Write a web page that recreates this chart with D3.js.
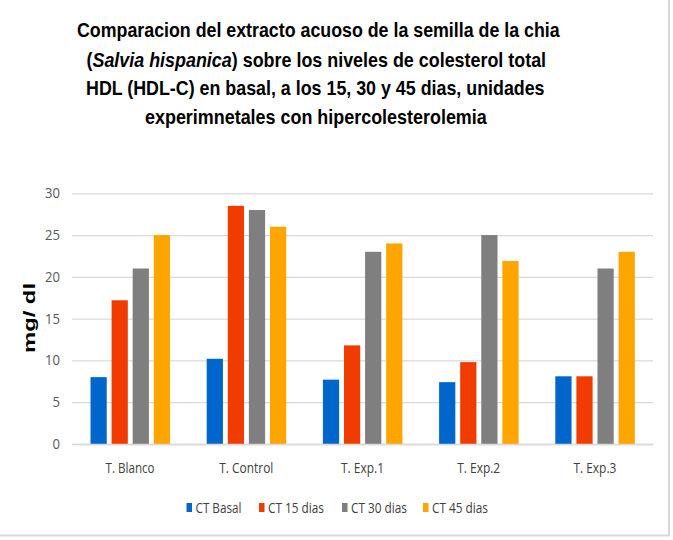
<!DOCTYPE html>
<html><head><meta charset="utf-8">
<script src="https://cdn.jsdelivr.net/npm/d3@7"></script>
<style>
html,body{margin:0;padding:0;background:#fff;}
svg{display:block;}
</style></head>
<body>
<svg id="chart" width="673" height="540"></svg>
<script>
const categories = ["T. Blanco", "T. Control", "T. Exp.1", "T. Exp.2", "T. Exp.3"];
const seriesNames = ["CT Basal", "CT 15 dias", "CT 30 dias", "CT 45 dias"];
const ctBasal = [8.0, 10.2, 7.7, 7.4, 8.1];
const ct15 = [17.2, 28.5, 11.8, 9.8, 8.1];
const ct30 = [21.0, 28.0, 23.0, 25.0, 21.0];
const ct45 = [25.0, 26.0, 24.0, 21.9, 23.0];
const yTicks = [0, 5, 10, 15, 20, 25, 30];
const colors = ["#0066CC", "#F03C00", "#7F7F7F", "#FFA500"];

const seriesValues = [ctBasal, ct15, ct30, ct45];
const table = categories.map((c, i) => ({cat: c, vals: seriesNames.map((s, j) => ({s, v: seriesValues[j][i], j}))}));

const svg = d3.select("#chart");
const m = {left: 72, right: 20};
const W = 673;
const x0 = d3.scaleBand().domain(categories).range([m.left, W - m.right]).paddingInner(0).paddingOuter(0);
const x1 = d3.scaleBand().domain(seriesNames).range([18.5, 98]).paddingInner(0.23).paddingOuter(0);
const y = d3.scaleLinear().domain([0, 30]).range([444, 193.3]);

const labelFont = "'Open Sans', sans-serif";

// border
svg.append("line").attr("x1", 669).attr("x2", 669).attr("y1", 0).attr("y2", 536).attr("stroke", "#d9d9d9").attr("stroke-width", 2);
svg.append("line").attr("x1", 0).attr("x2", 670).attr("y1", 535.5).attr("y2", 535.5).attr("stroke", "#d9d9d9").attr("stroke-width", 2);

// grid + y ticks
const yAxis = d3.axisLeft(y).tickValues(yTicks).tickSize(-(W - m.right - m.left)).tickPadding(12);
const gy = svg.append("g").attr("transform", `translate(${m.left},0)`).call(yAxis);
gy.select(".domain").remove();
gy.selectAll(".tick line").attr("stroke", "#d9d9d9").attr("stroke-width", 1.3);
gy.selectAll(".tick text").attr("fill", "#595959").attr("font-family", labelFont).attr("font-size", 14)
  .attr("textLength", d => d >= 10 ? 15 : 7.5).attr("lengthAdjust", "spacingAndGlyphs");

// bars
const groups = svg.append("g").selectAll("g").data(table).join("g")
  .attr("transform", d => `translate(${x0(d.cat)},0)`);
groups.selectAll("rect").data(d => d.vals).join("rect")
  .attr("x", d => x1(d.s)).attr("width", x1.bandwidth())
  .attr("y", d => y(d.v)).attr("height", d => y(0) - y(d.v))
  .attr("fill", d => colors[d.j]);

// x axis
const catWidths = {"T. Blanco": 49, "T. Control": 54, "T. Exp.1": 43, "T. Exp.2": 43, "T. Exp.3": 43};
const xAxis = d3.axisBottom(x0).tickSize(0).tickPadding(18);
const gx = svg.append("g").attr("transform", `translate(0,${y(0)})`).call(xAxis);
gx.select(".domain").attr("stroke", "#d9d9d9").attr("stroke-width", 1.3);
gx.selectAll(".tick text").attr("fill", "#404040").attr("font-family", labelFont).attr("font-size", 15)
  .attr("textLength", d => catWidths[d]).attr("lengthAdjust", "spacingAndGlyphs");

// y label
svg.append("text").attr("transform", "translate(35,318) rotate(-90)").attr("text-anchor", "middle")
  .attr("font-family", "'Liberation Sans', Arial, sans-serif").attr("font-weight", "bold").attr("font-size", 17)
  .attr("textLength", 70).attr("lengthAdjust", "spacingAndGlyphs")
  .attr("fill", "#000").text("mg/ dl");

// title: each line drawn at natural size then scaled horizontally to the reference width
const tf = "'Liberation Sans', Arial, sans-serif";
const title = svg.append("g").attr("font-family", tf).attr("font-weight", "bold").attr("font-size", 20).attr("fill", "#000");
function tline(yy, x, len, parts) {
  const t = title.append("text").attr("x", 0).attr("y", 0);
  parts.forEach(p => {
    const s = t.append("tspan").text(p[0]);
    if (p[1]) s.attr("font-style", "italic");
  });
  const w = t.node().getComputedTextLength();
  t.attr("transform", `translate(${x},${yy}) scale(${len / w},1)`);
  return t;
}
tline(37, 77, 483, [["Comparacion del extracto acuoso de la semilla de la chia"]]);
tline(66.5, 86.5, 460, [["("], ["Salvia hispanica", true], [") sobre los niveles de colesterol total"]]);
tline(95, 86, 459, [["HDL (HDL-C) en basal, a los 15, 30 y 45 dias, unidades"]]);
tline(123.5, 145, 342, [["experimnetales con hipercolesterolemia"]]);

// legend
const legX = [186.5, 259, 342, 423];
const legW = [46, 56, 56, 56];
const leg = svg.append("g").selectAll("g").data(seriesNames).join("g")
  .attr("transform", (d, i) => `translate(${legX[i]},0)`);
leg.append("rect").attr("x", 0).attr("y", 503).attr("width", 5.5).attr("height", 9).attr("fill", (d, i) => colors[i]);
leg.append("text").attr("x", 9).attr("y", 512.5).attr("font-family", labelFont)
  .attr("font-size", 14.5).attr("fill", "#404040")
  .attr("textLength", (d, i) => legW[i]).attr("lengthAdjust", "spacingAndGlyphs").text(d => d);
</script>
</body></html>
